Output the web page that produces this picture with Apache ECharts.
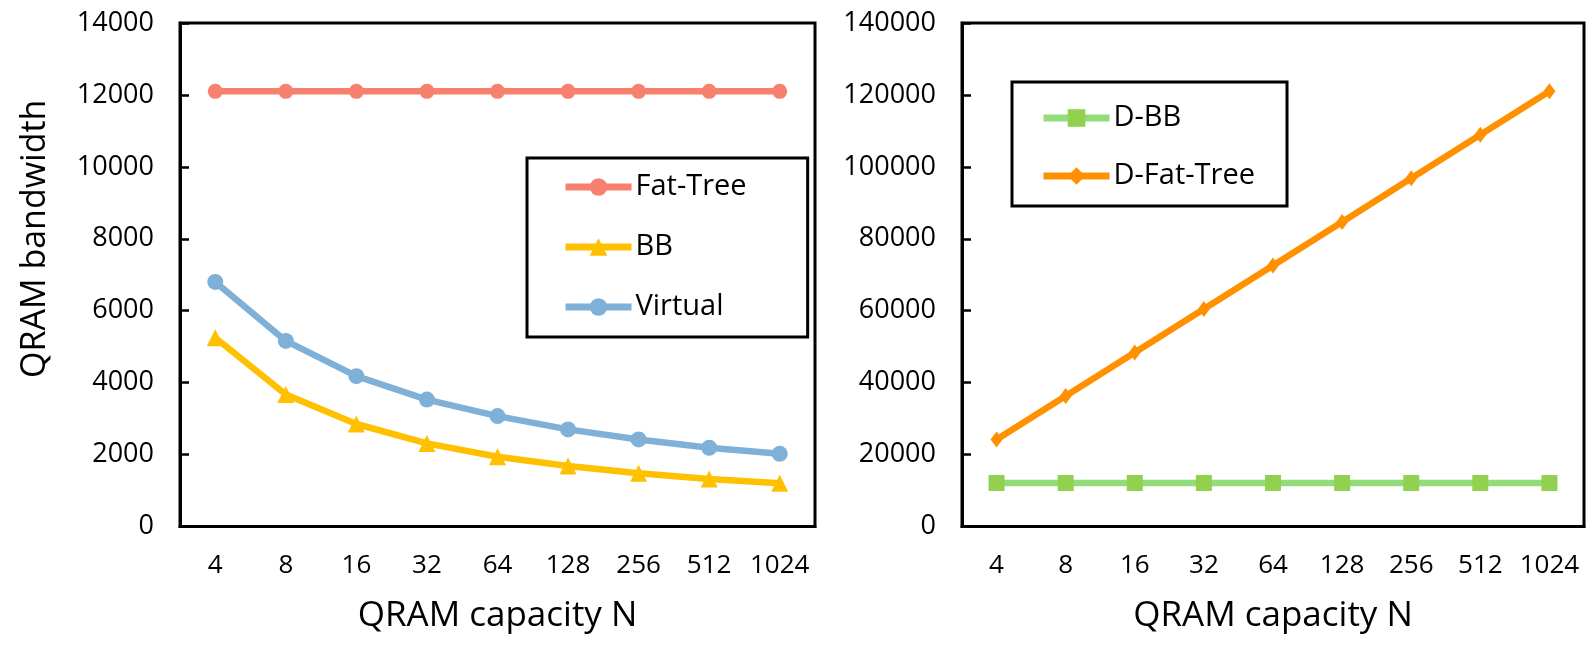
<!DOCTYPE html>
<html>
<head>
<meta charset="utf-8">
<script src="https://cdn.jsdelivr.net/npm/echarts@6/dist/echarts.min.js"></script>
<style>
html,body{margin:0;padding:0;background:#fff;}
#c{width:1595px;height:645px;}
</style>
</head>
<body>
<div id="c"></div>
<script>
const categories = ['4','8','16','32','64','128','256','512','1024'];
const fatTree = [12100,12100,12100,12100,12100,12100,12100,12100,12100];
const bb = [5250,3670,2850,2310,1940,1680,1480,1320,1200];
const virtual = [6800,5160,4180,3530,3070,2700,2420,2190,2020];
const dBB = [12100,12100,12100,12100,12100,12100,12100,12100,12100];
const dFatTree = [24200,36300,48400,60500,72600,84700,96800,108900,121000];
const leftTicks = {min:0, max:14000, interval:2000};
const rightTicks = {min:0, max:140000, interval:20000};
const xTitle = 'QRAM capacity N';
const yTitle = 'QRAM bandwidth';

const FONT = '"Open Sans", sans-serif';
const chart = echarts.init(document.getElementById('c'), null, {renderer:'canvas'});

function xAxis(gridIndex){
  return {
    type:'category', gridIndex, data:categories, boundaryGap:true,
    axisLine:{lineStyle:{color:'#000',width:3}},
    axisTick:{inside:true,length:9,interval:0,lineStyle:{color:'#000',width:2.5},alignWithLabel:false},
    axisLabel:{color:'#000',fontFamily:FONT,fontSize:26,margin:26,interval:0},
    name:xTitle, nameLocation:'middle', nameGap:72,
    nameTextStyle:{color:'#000',fontFamily:FONT,fontSize:35},
    splitLine:{show:false}
  };
}
function yAxis(gridIndex, t, withName){
  const a = {
    type:'value', gridIndex, min:t.min, max:t.max, interval:t.interval,
    axisLine:{show:true,lineStyle:{color:'#000',width:3}},
    axisTick:{show:true,inside:true,length:9,lineStyle:{color:'#000',width:2.5}},
    axisLabel:{color:'#000',fontFamily:FONT,fontSize:27,margin:26,formatter:function(v){return String(v);}},
    splitLine:{show:false}
  };
  if(withName){
    a.name = yTitle; a.nameLocation='middle'; a.nameGap=128; a.nameRotate=90;
    a.nameTextStyle={color:'#000',fontFamily:FONT,fontSize:34,padding:[0,0,0,72]};
  }
  return a;
}

const legendCommon = {
  orient:'vertical',
  itemWidth:66, itemHeight:22,
  textStyle:{color:'#000',fontFamily:FONT,fontSize:29,lineHeight:30,padding:[0,0,0,-1]},
  lineStyle:{width:7},
  borderColor:'#000', borderWidth:3
};

const option = {
  backgroundColor:'#fff',
  animation:false,
  grid:[
    {left:180,top:23,width:635,height:503.5,show:true,borderColor:'#000',borderWidth:3,backgroundColor:'transparent'},
    {left:962,top:23,width:622,height:503.5,show:true,borderColor:'#000',borderWidth:3,backgroundColor:'transparent'}
  ],
  xAxis:[xAxis(0), xAxis(1)],
  yAxis:[yAxis(0,leftTicks,true), yAxis(1,rightTicks,false)],
  legend:[
    Object.assign({}, legendCommon, {
      data:['Fat-Tree','BB','Virtual'],
      left:527, top:158, itemGap:30,
      padding:[14,61,15,35]
    }),
    Object.assign({}, legendCommon, {
      data:['D-BB','D-Fat-Tree'],
      left:1012, top:82, itemGap:28,
      padding:[21,32,15,28]
    })
  ],
  series:[
    {name:'Fat-Tree',type:'line',xAxisIndex:0,yAxisIndex:0,data:fatTree,
     symbol:'circle',symbolSize:15,lineStyle:{color:'#F8806F',width:6.5},itemStyle:{color:'#F8806F'}},
    {name:'BB',type:'line',xAxisIndex:0,yAxisIndex:0,data:bb,
     symbol:'triangle',symbolSize:17,lineStyle:{color:'#FFC000',width:6.5},itemStyle:{color:'#FFC000'}},
    {name:'Virtual',type:'line',xAxisIndex:0,yAxisIndex:0,data:virtual,
     symbol:'circle',symbolSize:16,lineStyle:{color:'#7FB0D8',width:6.5},itemStyle:{color:'#7FB0D8'}},
    {name:'D-BB',type:'line',xAxisIndex:1,yAxisIndex:1,data:dBB,
     symbol:'rect',symbolSize:16,lineStyle:{color:'#92DC7A',width:6.5},itemStyle:{color:'#92D050'}},
    {name:'D-Fat-Tree',type:'line',xAxisIndex:1,yAxisIndex:1,data:dFatTree,
     symbol:'diamond',symbolSize:[12,16],lineStyle:{color:'#FF9100',width:6.5},itemStyle:{color:'#FF9100'}}
  ]
};
chart.setOption(option);
</script>
</body>
</html>
